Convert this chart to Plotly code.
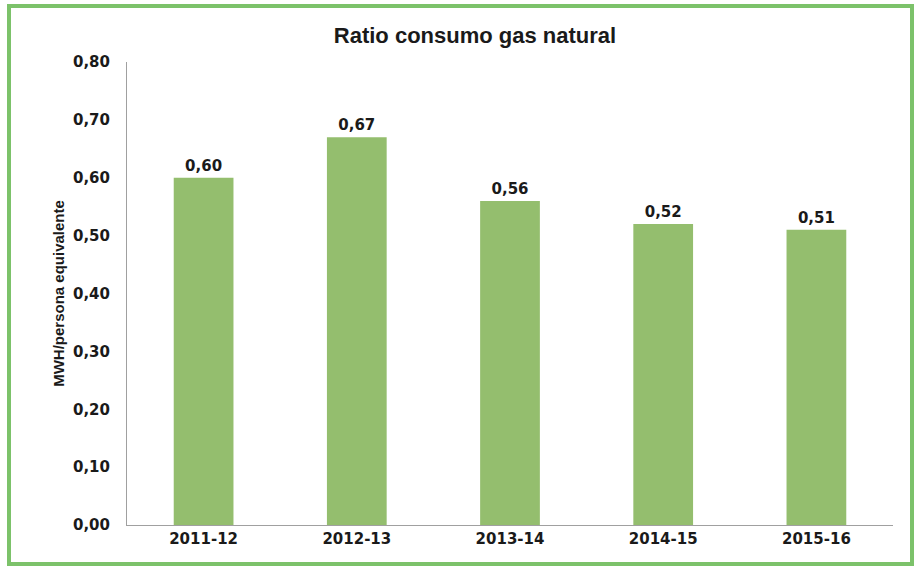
import plotly.graph_objects as go

categories = ["2011-12", "2012-13", "2013-14", "2014-15", "2015-16"]
ratio = [0.60, 0.67, 0.56, 0.52, 0.51]
y_ticks = [0, 0.1, 0.2, 0.3, 0.4, 0.5, 0.6, 0.7, 0.8]

W, H = 915, 567
L, R, T, B = 127, 22, 62, 42
pw, ph = W - L - R, H - T - B

def px_x(p):
    return (p - L) / pw

def px_y(p):
    return (H - B - p) / ph

bold = "bold"
tick_font = dict(family="DejaVu Sans", size=15, color="#1a1a1a", weight=bold)
fig = go.Figure(
    go.Bar(
        x=categories,
        y=ratio,
        marker=dict(color="#94BE6E", line=dict(width=0)),
        width=0.39,
        texttemplate="%{y:.2f}",
        textposition="outside",
        cliponaxis=False,
        textfont=tick_font,
        hoverinfo="skip",
    )
)

fig.update_layout(
    width=W,
    height=H,
    separators=",.",
    paper_bgcolor="white",
    plot_bgcolor="white",
    margin=dict(l=L, r=R, t=T, b=B),
    showlegend=False,
    title=dict(
        text="Ratio consumo gas natural",
        x=475 / W,
        xanchor="center",
        y=1 - 35 / H,
        yanchor="middle",
        font=dict(family="Liberation Sans", size=22, color="#1a1a1a", weight=bold),
    ),
    xaxis=dict(
        type="category",
        automargin=False,
        showgrid=False,
        showline=True,
        linecolor="#a0a0a0",
        linewidth=1,
        ticks="",
        tickfont=tick_font,
    ),
    yaxis=dict(
        automargin=False,
        range=[0, 0.8],
        tickvals=y_ticks,
        tickformat=".2f",
        showgrid=False,
        zeroline=False,
        showline=True,
        linecolor="#a0a0a0",
        linewidth=1,
        ticks="",
        ticklabelstandoff=13,
        tickfont=tick_font,
        title=dict(
            text="MWH/persona equivalente",
            standoff=4,
            font=dict(family="Liberation Sans", size=15, color="#1a1a1a", weight=bold),
        ),
    ),
    shapes=[
        dict(
            type="rect",
            xref="paper",
            yref="paper",
            x0=px_x(9),
            x1=px_x(912),
            y0=px_y(564),
            y1=px_y(6),
            line=dict(color="#7CC26A", width=4),
            fillcolor="rgba(0,0,0,0)",
            layer="below",
        )
    ],
)

fig.write_html(
    "out.html",
    config={"displayModeBar": False},
    post_script="document.body.style.margin='0';",
)
